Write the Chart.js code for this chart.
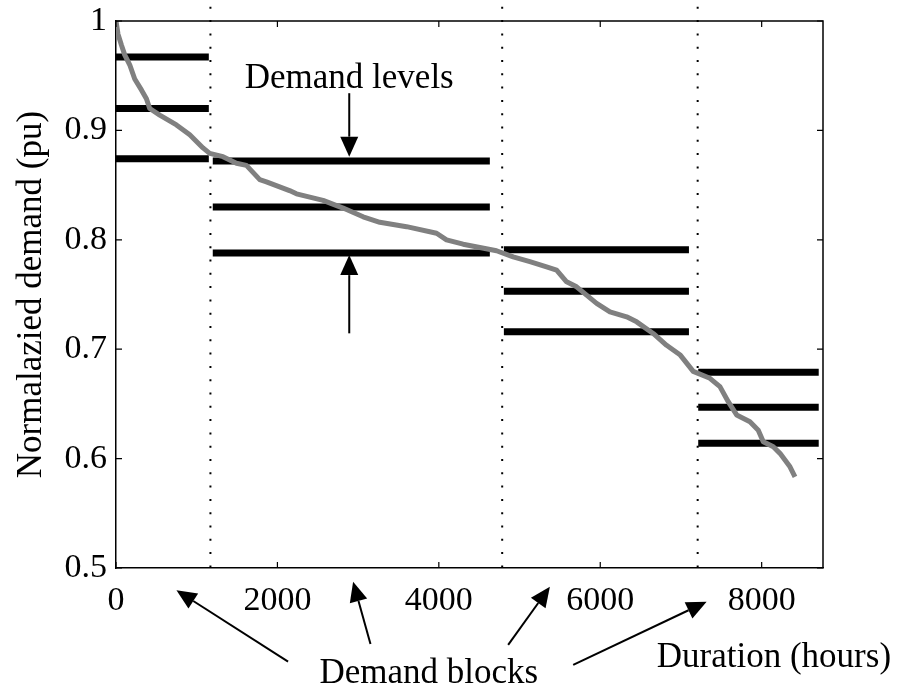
<!DOCTYPE html>
<html>
<head>
<meta charset="utf-8">
<script src="https://cdn.jsdelivr.net/npm/chart.js@4.4.0/dist/chart.umd.min.js"></script>
<style>
  html, body { margin: 0; padding: 0; background: #fff; }
  #wrap { width: 909px; height: 688px; position: relative; }
</style>
</head>
<body>
<div id="wrap"><canvas id="chart"></canvas></div>
<script>
// Load duration curve
const curveHours = [0, 25, 67, 108, 170, 232, 315, 377, 418, 542, 749, 914, 1078, 1161, 1326, 1492, 1616,
  1781, 1864, 2150, 2236, 2566, 2814, 3062, 3269, 3600, 3972, 4095, 4301, 4508, 4715, 4921, 5128, 5335,
  5459, 5583, 5707, 5831, 5955, 6120, 6327, 6451, 6656, 6822, 6987, 7152, 7359, 7483, 7586, 7690, 7855,
  7958, 8020, 8144, 8227, 8351, 8413];
const curveDemand = [1.0, 0.988, 0.978, 0.969, 0.960, 0.947, 0.937, 0.929, 0.920, 0.914, 0.905, 0.896, 0.884,
  0.879, 0.876, 0.870, 0.868, 0.855, 0.853, 0.845, 0.842, 0.836, 0.829, 0.821, 0.816, 0.812, 0.806, 0.800,
  0.796, 0.793, 0.790, 0.7844, 0.780, 0.7753, 0.7723, 0.7616, 0.757, 0.7494, 0.7419, 0.7342, 0.7296, 0.725,
  0.7144, 0.7036, 0.695, 0.6797, 0.6734, 0.6658, 0.652, 0.6399, 0.6337, 0.626, 0.6154, 0.6108, 0.6048,
  0.5925, 0.5834];

// Demand blocks and their three demand levels
const blockStart = [0, 1199, 4806, 7214];
const blockEnd = [1150, 4632, 7099, 8707];
const blockLevels = [
  [0.967, 0.920, 0.874],
  [0.872, 0.830, 0.788],
  [0.791, 0.753, 0.716],
  [0.679, 0.647, 0.614]
];
const blockBounds = [1170, 4785, 7207];

const xTicks = [0, 2000, 4000, 6000, 8000];
const yTicks = [0.5, 0.6, 0.7, 0.8, 0.9, 1];

// Annotations (data coordinates: hours, pu)
const arrowsFrom = [[2890, 0.934], [2890, 0.7145], [2132, 0.4144], [3153, 0.4306], [4859, 0.4297], [5665, 0.4114]];
const arrowsTo = [[2890, 0.876], [2890, 0.786], [749, 0.4797], [2938, 0.4875], [5376, 0.4829], [7318, 0.4692]];
const noteText = ['Demand levels', 'Demand blocks', 'Duration (hours)'];
const notePos = [[2890, 0.939], [3876, 0.395], [8152, 0.4098]];

Chart.defaults.font.family = '"Liberation Serif", "Times New Roman", serif';
Chart.defaults.color = '#000';

// Build datasets
const datasets = [];
datasets.push({
  data: curveHours.map((h, i) => ({ x: h, y: curveDemand[i] })),
  borderColor: '#808080',
  borderWidth: 5,
  pointRadius: 0,
  tension: 0,
  borderJoinStyle: 'round'
});

const levelPts = [];
blockLevels.forEach((lv, b) => {
  lv.forEach(v => {
    levelPts.push({ x: blockStart[b], y: v }, { x: blockEnd[b], y: v }, { x: blockEnd[b], y: null });
  });
});
datasets.push({
  data: levelPts,
  borderColor: '#000',
  borderWidth: 7,
  borderCapStyle: 'butt',
  pointRadius: 0,
  spanGaps: false
});

blockBounds.forEach(b => {
  datasets.push({
    data: [{ x: b, y: 1.013 }, { x: b, y: 0.5 }],
    borderColor: '#000',
    borderWidth: 2,
    borderDash: [2, 11.3],
    borderCapStyle: 'butt',
    pointRadius: 0,
    clip: false
  });
});

function drawArrow(ctx, x1, y1, x2, y2) {
  const ang = Math.atan2(y2 - y1, x2 - x1);
  const hl = 20, hw = 9;
  const bx = x2 - hl * Math.cos(ang), by = y2 - hl * Math.sin(ang);
  ctx.beginPath();
  ctx.moveTo(x1, y1);
  ctx.lineTo(bx, by);
  ctx.stroke();
  ctx.beginPath();
  ctx.moveTo(x2, y2);
  ctx.lineTo(bx + hw * Math.sin(ang), by - hw * Math.cos(ang));
  ctx.lineTo(bx - hw * Math.sin(ang), by + hw * Math.cos(ang));
  ctx.closePath();
  ctx.fill();
}

const framePlugin = {
  id: 'frame',
  afterDraw(chart) {
    const { ctx, chartArea: a, scales: { x, y } } = chart;
    ctx.save();
    ctx.strokeStyle = '#000';
    ctx.fillStyle = '#000';
    ctx.lineWidth = 1.5;
    ctx.beginPath();
    ctx.moveTo(a.left, a.top);
    ctx.lineTo(a.right, a.top);
    ctx.lineTo(a.right, a.bottom);
    ctx.stroke();

    // inward tick marks on all four sides
    const tl = 6;
    ctx.lineWidth = 1.2;
    ctx.beginPath();
    xTicks.forEach(v => {
      const px = x.getPixelForValue(v);
      ctx.moveTo(px, a.bottom); ctx.lineTo(px, a.bottom - tl);
      ctx.moveTo(px, a.top); ctx.lineTo(px, a.top + tl);
    });
    yTicks.forEach(v => {
      const py = y.getPixelForValue(v);
      ctx.moveTo(a.left, py); ctx.lineTo(a.left + tl, py);
      ctx.moveTo(a.right, py); ctx.lineTo(a.right - tl, py);
    });
    ctx.stroke();

    // arrows
    ctx.lineWidth = 2;
    arrowsFrom.forEach((f, i) => {
      const t = arrowsTo[i];
      drawArrow(ctx, x.getPixelForValue(f[0]), y.getPixelForValue(f[1]),
        x.getPixelForValue(t[0]), y.getPixelForValue(t[1]));
    });

    // text notes
    ctx.font = '35px "Liberation Serif", "Times New Roman", serif';
    ctx.textAlign = 'center';
    ctx.textBaseline = 'alphabetic';
    noteText.forEach((s, i) => {
      ctx.fillText(s, x.getPixelForValue(notePos[i][0]), y.getPixelForValue(notePos[i][1]));
    });
    ctx.restore();
  }
};

new Chart(document.getElementById('chart'), {
  type: 'line',
  data: { datasets: datasets },
  options: {
    responsive: true,
    maintainAspectRatio: false,
    animation: false,
    events: [],
    layout: { padding: { left: 0, right: 86, top: 21, bottom: 0 } },
    plugins: {
      legend: { display: false },
      tooltip: { enabled: false }
    },
    scales: {
      x: {
        type: 'linear',
        min: 0,
        max: 8760,
        afterBuildTicks: function(scale) {
          scale.ticks = xTicks.map(v => ({ value: v }));
        },
        afterFit: function(scale) {
          scale.height = 120;
          scale.paddingLeft = 0;
          scale.paddingRight = 0;
        },
        grid: { display: false, drawTicks: false },
        border: { display: true, color: '#000', width: 1.5 },
        ticks: {
          padding: 13,
          maxRotation: 0,
          autoSkip: false,
          font: { size: 34 },
          callback: function(v) { return String(v); }
        }
      },
      y: {
        type: 'linear',
        min: 0.5,
        max: 1,
        afterBuildTicks: function(scale) {
          scale.ticks = yTicks.map(v => ({ value: v }));
        },
        afterFit: function(scale) {
          scale.width = 116;
          scale.paddingTop = 0;
          scale.paddingBottom = 0;
        },
        grid: { display: false, drawTicks: false },
        border: { display: true, color: '#000', width: 1.5 },
        title: {
          display: true,
          text: 'Normalazied demand (pu)',
          font: { size: 35 },
          padding: { top: 11, bottom: 0 }
        },
        ticks: {
          padding: 9,
          font: { size: 34 },
          callback: function(v) { return String(+v.toFixed(1)); }
        }
      }
    }
  },
  plugins: [framePlugin]
});
</script>
</body>
</html>
